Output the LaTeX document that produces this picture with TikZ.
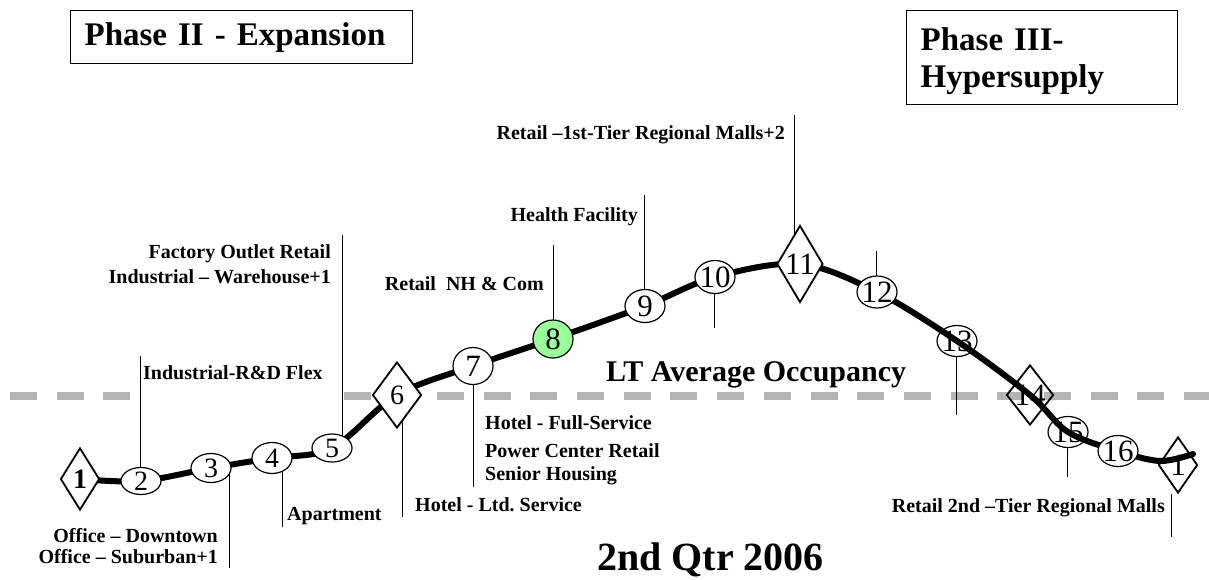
\documentclass[tikz,border=0pt]{standalone}
\usepackage{fontspec}
\setmainfont{Liberation Serif}
\usetikzlibrary{shapes.geometric}
\definecolor{avggray}{RGB}{180,180,180}
\definecolor{hl}{RGB}{153,255,153}
\frenchspacing
\begin{document}
\begin{tikzpicture}[x=1pt,y=-1pt,
  lbl/.style={font=\bfseries\fontsize{20}{22}\selectfont, inner sep=0pt},
  num/.style={font=\fontsize{28}{30}\selectfont, inner sep=0pt},
  numl/.style={font=\fontsize{31}{33}\selectfont, inner sep=0pt},
  oval/.style={ellipse, draw, line width=1.2pt, fill=white, inner sep=0pt, minimum width=40pt},
  ovalo/.style={ellipse, draw, line width=1.2pt, inner sep=0pt, minimum width=40pt},
  dia/.style={diamond, draw, line width=1.8pt, fill=white, inner sep=0pt},
  diao/.style={diamond, draw, line width=1.8pt, inner sep=0pt},
  tick/.style={line width=0.9pt},
  trend/.style={line width=6pt, line join=round, line cap=round},
  avg/.style={avggray, line width=8pt, dash pattern=on 27pt off 19.7pt},
  phase/.style={draw, line width=1.3pt, font=\bfseries\fontsize{33}{37}\selectfont, align=left, inner xsep=14pt, inner ysep=0pt}
]
\useasboundingbox (0,0) rectangle (1209,579);

% positions
\coordinate (p1) at (80,479);
\coordinate (p2) at (141,481);
\coordinate (p3) at (211,468);
\coordinate (p4) at (272,458);
\coordinate (p5) at (332,448);
\coordinate (p6) at (397,395);
\coordinate (p7) at (473,366);
\coordinate (p8) at (553,339);
\coordinate (p9) at (645,306);
\coordinate (p10) at (715,277);
\coordinate (p11) at (800,264);
\coordinate (p12) at (877,292);
\coordinate (p13) at (957,341);
\coordinate (p14) at (1030,395);
\coordinate (p15) at (1068,432);
\coordinate (p16) at (1118,451);
\coordinate (p17) at (1178,465);
\coordinate (q1) at (1160,461);
\coordinate (q2) at (1193,454);

% tick ends
\coordinate (t2) at (140,356);
\coordinate (t3) at (229,568);
\coordinate (t4) at (282,527);
\coordinate (t5) at (342,235);
\coordinate (t6) at (402,517);
\coordinate (t7) at (473,487);
\coordinate (t8) at (553,245);
\coordinate (t9) at (644,195);
\coordinate (t10) at (714,328);
\coordinate (t11) at (794,115);
\coordinate (t12) at (876,251);
\coordinate (t13) at (956,415);
\coordinate (t15) at (1067,477);
\coordinate (t17) at (1171,537);

% LT average line
\draw[avg] (10,396) -- (131,396);
\draw[avg] (343.5,396) -- (1209,396);

% see-through nodes
\node[ovalo, minimum height=31pt, label={[numl]center:13}] (n13) at (p13) {};
\node[diao, minimum width=47pt, minimum height=60pt, label={[numl]center:14}] (n14) at (p14) {};
\node[ovalo, minimum height=31pt, label={[numl]center:15}] (n15) at (p15) {};
\node[diao, minimum width=39pt, minimum height=56pt, label={[numl]center:1}] (n17) at (p17) {};

% trend curve
\draw[trend] plot[smooth, tension=0.55] coordinates {(p1) (p2) (p3) (p4) (p5) (p6) (p7) (p8) (p9) (p10) (p11) (p12) (p13) (p14) (p15) (p16) (q1) (q2)};

% ticks
\draw[tick] (t2 |- p2) -- (t2);
\draw[tick] (t3 |- p3) -- (t3);
\draw[tick] (t4 |- p4) -- (t4);
\draw[tick] (t5 |- p5) -- (t5);
\draw[tick] (t6 |- p6) -- (t6);
\draw[tick] (t7 |- p7) -- (t7);
\draw[tick] (t8 |- p8) -- (t8);
\draw[tick] (t9 |- p9) -- (t9);
\draw[tick] (t10 |- p10) -- (t10);
\draw[tick] (t11 |- p11) -- (t11);
\draw[tick] (t12 |- p12) -- (t12);
\draw[tick] (t13 |- n13.south) -- (t13);
\draw[tick] (t15 |- n15.south) -- (t15);
\draw[tick] (t17 |- n17.south) -- (t17);

% filled nodes
\node[dia, minimum width=39pt, minimum height=62pt, label={[num, font=\bfseries\fontsize{28}{30}\selectfont]center:1}] (n1) at (p1) {};
\node[oval, minimum height=27pt, label={[num]center:2}] (n2) at (p2) {};
\node[oval, minimum height=29pt, label={[num]center:3}] (n3) at (p3) {};
\node[oval, minimum height=31pt, label={[num]center:4}] (n4) at (p4) {};
\node[oval, minimum height=28pt, label={[num]center:5}] (n5) at (p5) {};
\node[dia, minimum width=49pt, minimum height=66pt, label={[num]center:6}] (n6) at (p6) {};
\node[oval, minimum height=37pt, label={[numl]center:7}] (n7) at (p7) {};
\node[oval, fill=hl, minimum height=38pt, label={[numl]center:8}] (n8) at (p8) {};
\node[oval, minimum height=33pt, label={[numl]center:9}] (n9) at (p9) {};
\node[oval, minimum height=33pt, label={[numl]center:10}] (n10) at (p10) {};
\node[dia, minimum width=46pt, minimum height=77pt, label={[numl]center:11}] (n11) at (p11) {};
\node[oval, minimum height=32pt, label={[numl]center:12}] (n12) at (p12) {};
\node[oval, minimum height=31pt, label={[numl]center:16}] (n16) at (p16) {};

% labels
\node[lbl, anchor=base west] (l2) at (143,379) {Industrial-R\&D Flex};
\node[lbl, anchor=base east] (l3a) at (218,542) {Office – Downtown};
\node[lbl, anchor=base east] (l3b) at (218,563) {Office – Suburban+1};
\node[lbl, anchor=base west] (l4) at (287,520) {Apartment};
\node[lbl, anchor=base east] (l5a) at (331,258) {Factory Outlet Retail};
\node[lbl, anchor=base east] (l5b) at (331,283) {Industrial – Warehouse+1};
\node[lbl, anchor=base west] (l6) at (415,511) {Hotel - Ltd. Service};
\node[lbl, anchor=base west] (l7a) at (485,429) {Hotel - Full-Service};
\node[lbl, anchor=base west] (l7b) at (485,457) {Power Center Retail};
\node[lbl, anchor=base west] (l7c) at (485,480) {Senior Housing};
\node[lbl, anchor=base east] (l8) at (544,290) {Retail\ \ NH \& Com};
\node[lbl, anchor=base east] (l9) at (638,221) {Health Facility};
\node[lbl, anchor=base east] (l11) at (785,139) {Retail –1st-Tier Regional Malls+2};
\node[lbl, anchor=base east] (l17) at (1165,512) {Retail 2nd –Tier Regional Malls};
\node[lbl, font=\bfseries\fontsize{30}{32}\selectfont, anchor=base west] (ltavg) at (606,381) {LT Average Occupancy};
\node[lbl, font=\bfseries\fontsize{40}{42}\selectfont, anchor=base west] (qtr) at (597,570) {2nd Qtr 2006};

% phase boxes
\node[phase, anchor=north west, minimum width=342pt, minimum height=53pt, text width=314pt] (ph2) at (70,10) {Phase II - Expansion};
\node[phase, anchor=north west, minimum width=271pt, minimum height=94pt, text width=243pt] (ph3) at (906,10) {\rule{0pt}{30pt}Phase III-\\Hypersupply};
\end{tikzpicture}
\end{document}
